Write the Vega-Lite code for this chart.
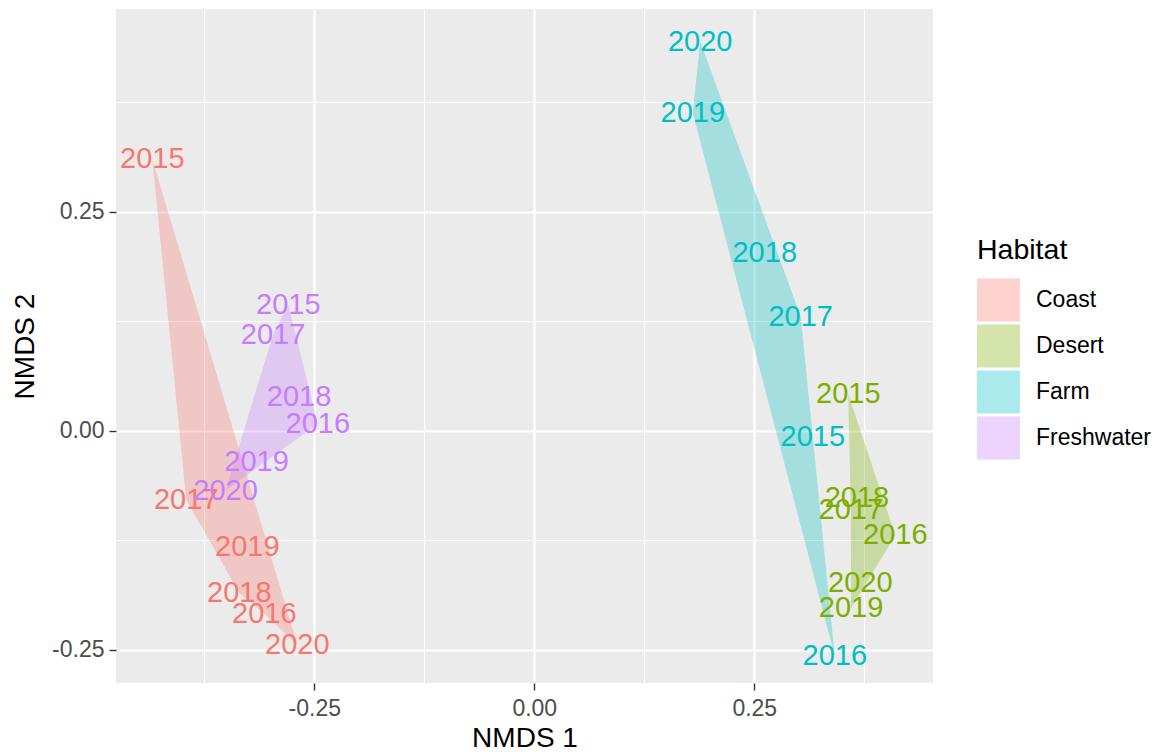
{
  "$schema": "https://vega.github.io/schema/vega-lite/v6.json",
  "width": 817,
  "height": 674,
  "autosize": "none",
  "padding": {"left": 116, "top": 9, "right": 225, "bottom": 69},
  "background": "#FFFFFF",
  "data": {
    "values": [
      {"Habitat": "Coast", "Year": "2015", "NMDS1": -0.4341, "NMDS2": 0.3105, "hull": 1},
      {"Habitat": "Coast", "Year": "2016", "NMDS1": -0.3068, "NMDS2": -0.2089, "hull": 3},
      {"Habitat": "Coast", "Year": "2017", "NMDS1": -0.3955, "NMDS2": -0.0788, "hull": 5},
      {"Habitat": "Coast", "Year": "2018", "NMDS1": -0.3352, "NMDS2": -0.1849, "hull": 4},
      {"Habitat": "Coast", "Year": "2019", "NMDS1": -0.3261, "NMDS2": -0.1324, "hull": null},
      {"Habitat": "Coast", "Year": "2020", "NMDS1": -0.2693, "NMDS2": -0.2443, "hull": 2},
      {"Habitat": "Desert", "Year": "2015", "NMDS1": 0.3568, "NMDS2": 0.0422, "hull": 1},
      {"Habitat": "Desert", "Year": "2016", "NMDS1": 0.4102, "NMDS2": -0.1193, "hull": 2},
      {"Habitat": "Desert", "Year": "2017", "NMDS1": 0.3597, "NMDS2": -0.0908, "hull": 4},
      {"Habitat": "Desert", "Year": "2018", "NMDS1": 0.3667, "NMDS2": -0.0765, "hull": null},
      {"Habitat": "Desert", "Year": "2019", "NMDS1": 0.3600, "NMDS2": -0.2026, "hull": 3},
      {"Habitat": "Desert", "Year": "2020", "NMDS1": 0.3705, "NMDS2": -0.1735, "hull": null},
      {"Habitat": "Farm", "Year": "2015", "NMDS1": 0.3165, "NMDS2": -0.0068, "hull": null},
      {"Habitat": "Farm", "Year": "2016", "NMDS1": 0.3415, "NMDS2": -0.2574, "hull": 3},
      {"Habitat": "Farm", "Year": "2017", "NMDS1": 0.3028, "NMDS2": 0.1301, "hull": 2},
      {"Habitat": "Farm", "Year": "2018", "NMDS1": 0.2619, "NMDS2": 0.2026, "hull": null},
      {"Habitat": "Farm", "Year": "2019", "NMDS1": 0.1801, "NMDS2": 0.3630, "hull": 4},
      {"Habitat": "Farm", "Year": "2020", "NMDS1": 0.1886, "NMDS2": 0.4441, "hull": 1},
      {"Habitat": "Freshwater", "Year": "2015", "NMDS1": -0.2795, "NMDS2": 0.1438, "hull": 1},
      {"Habitat": "Freshwater", "Year": "2016", "NMDS1": -0.2460, "NMDS2": 0.0080, "hull": 2},
      {"Habitat": "Freshwater", "Year": "2017", "NMDS1": -0.2968, "NMDS2": 0.1096, "hull": 4},
      {"Habitat": "Freshwater", "Year": "2018", "NMDS1": -0.2673, "NMDS2": 0.0388, "hull": null},
      {"Habitat": "Freshwater", "Year": "2019", "NMDS1": -0.3156, "NMDS2": -0.0354, "hull": null},
      {"Habitat": "Freshwater", "Year": "2020", "NMDS1": -0.3508, "NMDS2": -0.0685, "hull": 3}
    ]
  },
  "layer": [
    {
      "transform": [{"filter": "datum.hull != null"}],
      "mark": {"type": "line", "interpolate": "linear-closed", "fillOpacity": 0.3, "strokeWidth": 0},
      "encoding": {
        "x": {
          "field": "NMDS1", "type": "quantitative",
          "scale": {"domain": [-0.4753, 0.4531], "nice": false, "zero": false},
          "axis": {
            "orient": "bottom",
            "title": "NMDS 1",
            "values": [-0.25, 0, 0.25],
            "labelExpr": "replace(format(datum.value, '.2f'), '\u2212', '-')",
            "grid": true, "gridWidth": 2.2,
            "ticks": true, "tickSize": 7, "tickWidth": 1.4, "tickColor": "#333333",
            "labelPadding": 7, "labelFontSize": 23, "labelColor": "#4D4D4D",
            "titleFontSize": 28, "titlePadding": 4
          }
        },
        "y": {
          "field": "NMDS2", "type": "quantitative",
          "scale": {"domain": [-0.288, 0.4814], "nice": false, "zero": false},
          "axis": {
            "orient": "left",
            "title": "NMDS 2",
            "values": [-0.25, 0, 0.25],
            "labelExpr": "replace(format(datum.value, '.2f'), '\u2212', '-')",
            "grid": true, "gridWidth": 2.2,
            "ticks": true, "tickSize": 7, "tickWidth": 1.4, "tickColor": "#333333",
            "labelPadding": 5, "labelFontSize": 23, "labelColor": "#4D4D4D",
            "titleFontSize": 28, "titlePadding": 12
          }
        },
        "fill": {
          "field": "Habitat", "type": "nominal",
          "scale": {"domain": ["Coast", "Desert", "Farm", "Freshwater"], "range": ["#F8766D", "#7CAE00", "#00BFC4", "#C77CFF"]},
          "legend": {
            "title": "Habitat",
            "orient": "none",
            "legendX": 861,
            "legendY": 227,
            "symbolType": "square",
            "symbolSize": 1849,
            "symbolOpacity": 0.33,
            "symbolStrokeWidth": 0,
            "rowPadding": 3,
            "labelOffset": 16,
            "labelFontSize": 23,
            "labelColor": "#000000",
            "titleFontSize": 28.5,
            "titleFontWeight": "normal",
            "titleColor": "#000000",
            "titlePadding": 14
          }
        },
        "detail": {"field": "Habitat"},
        "order": {"field": "hull", "type": "quantitative"}
      }
    },
    {
      "mark": {"type": "text", "fontSize": 29, "align": "center", "baseline": "middle", "font": "Liberation Sans"},
      "encoding": {
        "x": {
          "field": "NMDS1", "type": "quantitative",
          "axis": {
            "orient": "top", "title": null, "values": [-0.375, -0.125, 0.125, 0.375],
            "labels": false, "ticks": false, "domain": false, "grid": true, "gridWidth": 1.1
          }
        },
        "y": {
          "field": "NMDS2", "type": "quantitative",
          "axis": {
            "orient": "right", "title": null, "values": [-0.125, 0.125, 0.375],
            "labels": false, "ticks": false, "domain": false, "grid": true, "gridWidth": 1.1
          }
        },
        "text": {"field": "Year"},
        "color": {
          "field": "Habitat", "type": "nominal",
          "scale": {"domain": ["Coast", "Desert", "Farm", "Freshwater"], "range": ["#F8766D", "#7CAE00", "#00BFC4", "#C77CFF"]},
          "legend": null
        }
      }
    }
  ],
  "resolve": {"axis": {"x": "independent", "y": "independent"}},
  "config": {
    "font": "Liberation Sans",
    "view": {"fill": "#EBEBEB", "stroke": null},
    "axis": {
      "domain": false,
      "gridColor": "#FFFFFF",
      "gridOpacity": 1,
      "titleFontWeight": "normal",
      "titleColor": "#000000"
    },
    "legend": {"padding": 0}
  }
}
